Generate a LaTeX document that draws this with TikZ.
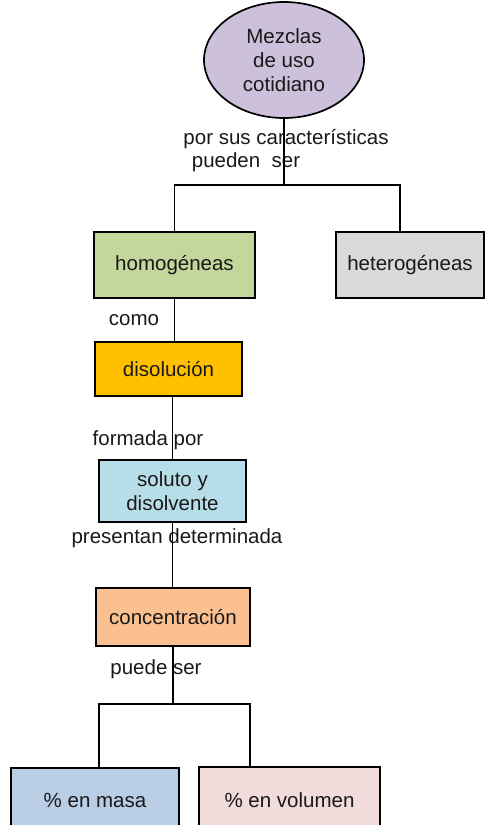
\documentclass[tikz,border=0pt]{standalone}
\usepackage{fontspec}
\setmainfont{Liberation Sans}
\usetikzlibrary{shapes.geometric}
\definecolor{cmez}{RGB}{204,192,218}
\definecolor{chomo}{RGB}{195,214,155}
\definecolor{chete}{RGB}{217,217,217}
\definecolor{cdiso}{RGB}{255,192,0}
\definecolor{csolu}{RGB}{183,222,232}
\definecolor{cconc}{RGB}{250,192,144}
\definecolor{cmasa}{RGB}{185,205,229}
\definecolor{cvolu}{RGB}{242,220,219}
\begin{document}
\begin{tikzpicture}[x=1pt,y=-1pt,
  font=\fontsize{20.5}{24}\selectfont,
  box/.style={draw, line width=1.7pt, inner sep=0pt, align=center, text=black!90},
  lbl/.style={inner sep=0pt, text=black!90},
  conn/.style={line width=1.7pt}]
\useasboundingbox (0,0) rectangle (488,825);
\node[box, ellipse, fill=cmez, minimum width=160, minimum height=116] (mez) at (284,60) {Mezclas\\de uso\\cotidiano};
\node[box, fill=chomo, minimum width=161, minimum height=66] (homo) at (174.5,265) {homogéneas};
\node[box, fill=chete, minimum width=148, minimum height=66] (hete) at (410,265) {heterogéneas};
\node[box, fill=cdiso, minimum width=147, minimum height=54] (diso) at (168.5,369) {disolución};
\node[box, fill=csolu, minimum width=147, minimum height=62] (solu) at (172.5,491) {soluto y\\disolvente};
\node[box, fill=cconc, minimum width=154, minimum height=58] (conc) at (173,617) {concentración};
\node[box, fill=cmasa, minimum width=168, minimum height=64] (masa) at (95,800) {\% en masa};
\node[box, fill=cvolu, minimum width=181, minimum height=66] (volu) at (289.5,800) {\% en volumen};

\node[lbl] (l1) at (286,139) {por sus características};
\node[lbl] (l2) at (246,162) {pueden\ \ ser};
\node[lbl] (l3) at (134,320) {como};
\node[lbl] (l4) at (148,440) {formada por};
\node[lbl] (l5) at (177,538) {presentan determinada};
\node[lbl] (l6) at (156,669) {puede ser};

\coordinate (j1) at (284,185);
\coordinate (j2) at (173,704);
\draw[conn] (mez.south) -- (j1);
\draw[conn] (homo.north) |- (j1) -| ([xshift=-10pt]hete.north);
\draw[conn] (homo.south) -- (homo.south |- diso.north);
\draw[conn] (diso.south -| solu.north) -- (solu.north);
\draw[conn] (solu.south) -- (solu.south |- conc.north);
\draw[conn] (conc.south) -- (j2);
\draw[conn] ([xshift=4pt]masa.north) |- (j2) -| ([xshift=-39.5pt]volu.north);
\end{tikzpicture}
\end{document}
